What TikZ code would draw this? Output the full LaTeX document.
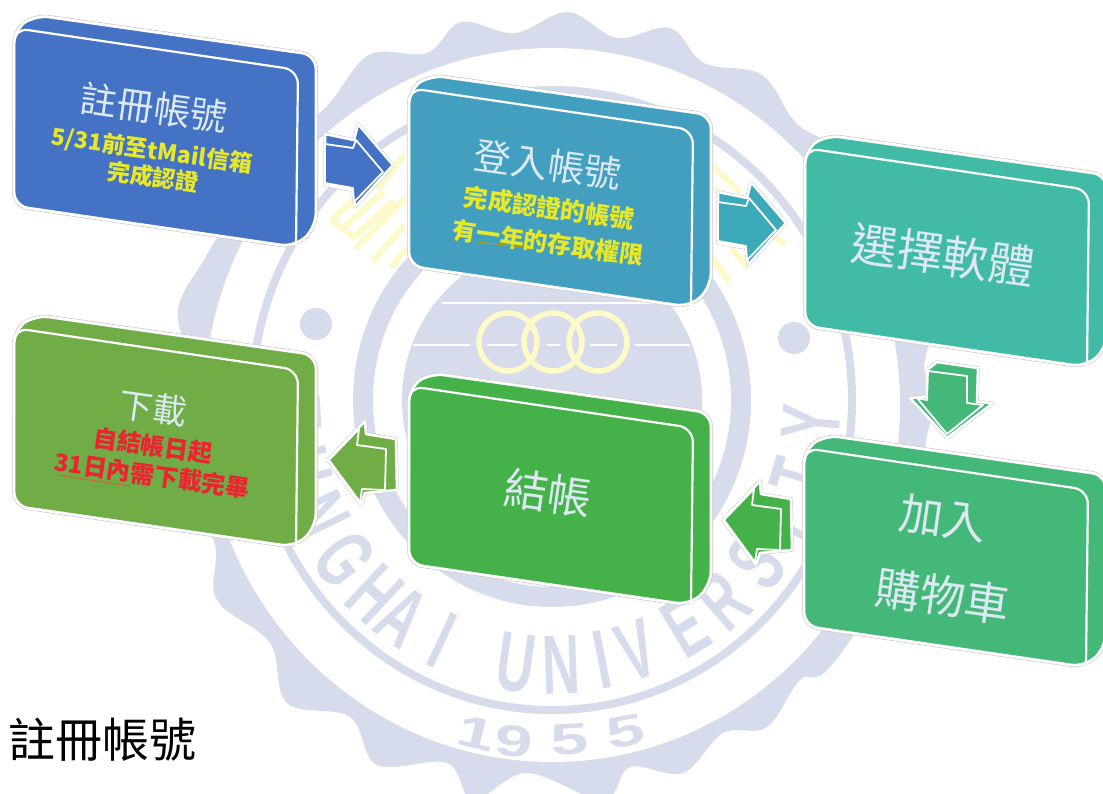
\documentclass[tikz,border=0pt]{standalone}
\usepackage{fontspec}
\setmainfont{Liberation Sans}
\newfontfamily\cjk{Noto Sans CJK TC}
\newfontfamily\seal{Liberation Sans}[BoldFont={Liberation Sans Bold}]
\definecolor{sealc}{HTML}{D6DCEC}
\definecolor{goldc}{HTML}{FDF9C8}
\definecolor{cA}{HTML}{4472C4}
\definecolor{cB}{HTML}{429FBF}
\definecolor{cC}{HTML}{41BBA6}
\definecolor{cD}{HTML}{43B878}
\definecolor{cE}{HTML}{45B149}
\definecolor{cF}{HTML}{70AD47}
\definecolor{aB}{HTML}{3DAABC}
\definecolor{txtc}{HTML}{DCE8F2}
\definecolor{yel}{HTML}{E8E82A}
\definecolor{redc}{HTML}{EA2430}
\newcommand{\fs}[1]{\fontsize{#1}{#1}\selectfont}
\newcommand{\BlockCube}[3]{%
  \begin{scope}[shift={(#1,#2)}]
    \draw[rounded corners=14pt,draw=black!22,line width=4pt]
      (-1,90)--(-1,0)--(20,-15)--(301,25)--(301,197)--(280,217)--(-1,176)--cycle;
    \draw[rounded corners=14pt,draw=white,fill=#3,line width=2.8pt]
      (-1,90)--(-1,0)--(20,-15)--(301,25)--(301,197)--(280,217)--(-1,176)--cycle;
    \draw[rounded corners=14pt,draw=white,line width=2.2pt]
      (-1,90)--(-1,-2)--(283,40)--(281,216);
  \end{scope}}
\newcommand{\RightArrow}[3]{%
  \begin{scope}[shift={(#1,#2)}]
    \draw[draw=black!22,line width=3.5pt,line join=round]
      (0,-9)--(29,-3)--(33,-19)--(68,22)--(30,64)--(28,47)--(0,42)--cycle;
    \draw[draw=white,fill=#3,line width=2.6pt,line join=round]
      (0,-9)--(29,-3)--(33,-19)--(68,22)--(30,64)--(28,47)--(0,42)--cycle;
    \draw[draw=white,fill=#3,line width=1.8pt,line join=round]
      (0,1)--(28,5)--(31,-3)--(58,29)--(29,59)--(28,45)--(0,40)--cycle;
  \end{scope}}
\newcommand{\LeftArrow}[3]{%
  \begin{scope}[shift={(#1,#2)}]
    \draw[draw=black!22,line width=3.5pt,line join=round]
      (0,0)--(37,-39)--(38,-26)--(68,-21)--(69,30)--(37,33)--(33,45)--cycle;
    \draw[draw=white,fill=#3,line width=2.6pt,line join=round]
      (0,0)--(37,-39)--(38,-26)--(68,-21)--(69,30)--(37,33)--(33,45)--cycle;
    \draw[draw=white,fill=#3,line width=1.8pt,line join=round]
      (1,0)--(31,-31)--(29,-15)--(58,-11)--(57,30)--(34,29)--(32,42)--cycle;
  \end{scope}}
\begin{document}
\begin{tikzpicture}[x=1pt,y=-1pt,
  boxtitle/.style={font=\cjk,text=txtc,rotate=-8,inner sep=0pt,align=center},
  yeltext/.style={font=\cjk\bfseries\fs{23},text=yel,rotate=-8,inner sep=0pt},
  redtext/.style={font=\cjk\bfseries\fs{24},text=redc,rotate=-8,inner sep=0pt},
  sealletter/.style={font=\seal\bfseries\fs{84},text=sealc,inner sep=0pt,xscale=.62},
  sealdigit/.style={font=\seal\bfseries\fs{44},text=sealc,inner sep=0pt,xscale=1.55},
  goldstripe/.style={draw=goldc,line width=6pt,line cap=round}]
\useasboundingbox (0,0) rectangle (1103,793);
\fill[white] (0,0) rectangle (1103,793);
% seal
\fill[sealc] plot[smooth cycle,tension=.6] coordinates {
  (568,12)(617,38)(670,28)(704,63)(762,75)(796,123)(838,150)(880,205)(905,240)(918,290)
  (930,330)(924,370)(935,400)(925,450)(930,520)(905,560)(830,667)(800,680)(767,727)(723,733)
  (683,773)(630,767)(603,800)(527,773)(473,800)(447,763)(377,765)(350,717)(287,703)(270,643)
  (217,600)(215,545)(190,490)(178,420)(190,370)(178,310)(205,258)(240,200)(260,160)(325,108)
  (369,55)(427,53)(461,22)(515,33)};
\fill[white] (552,405) ellipse[x radius=348,y radius=357];
\draw[sealc,line width=8pt] (552,400) ellipse[x radius=300,y radius=310];
\draw[sealc,line width=20pt] (552,400) ellipse[x radius=189,y radius=197];
\fill[sealc] (552,400) ellipse[x radius=150,y radius=155];
\fill[sealc] (316,324) circle[radius=16];
\fill[sealc] (794,338) circle[radius=16];
\draw[white,line width=2pt] (442,303)--(660,303)
  (413,345)--(470,345) (487,345)--(517,345) (547,345)--(560,345) (590,345)--(617,345) (635,345)--(690,345);
\foreach \c/\a in {T/183,U/195,N/206,G/217,H/227,A/235,I/245,U/262,N/272,I/281,V/289,E/301,R/311,S/322,I/332,T/343,Y/355}{
  \node[rotate=\a+90,sealletter] at ({552+260*cos(\a)},{400-265*sin(\a)}) {\c};}
\node[rotate=-14,sealdigit] (d1) at (477,733) {1};
\node[rotate=-6,sealdigit] (d2) at (514,741) {9};
\node[rotate=3,sealdigit] (d3) at (570,740) {5};
\node[rotate=10,sealdigit] (d4) at (626,732) {5};
% gold emblem
\draw[goldc,line width=5.5pt] (508,342) circle[radius=29] (553,342) circle[radius=29] (598,342) circle[radius=29];
\draw[goldstripe] (332,220)--(354,237) (332,220)--(372,183) (343,228)--(382,193) (354,237)--(392,203)
  (403,157)--(379,187) (357,247)--(403,200) (374,260)--(403,227) (393,265)--(405,250);
\draw[goldstripe] (714,167)--(738,190) (716,190)--(745,222) (714,260)--(728,280) (733,250)--(747,267) (767,233)--(784,243);
% boxes
\BlockCube{15}{30}{cA}
\BlockCube{410}{90}{cB}
\BlockCube{806}{150}{cC}
\BlockCube{805}{450}{cD}
\BlockCube{410}{388}{cE}
\BlockCube{15}{330}{cF}
% arrows
\RightArrow{325}{143}{cA}
\RightArrow{718}{201}{aB}
\LeftArrow{328}{460}{cF}
\LeftArrow{723}{520}{cE}
\draw[draw=black!22,line width=3.5pt,line join=round]
  (927,370)--(937,362)--(978,368)--(977,402)--(993,403)--(947,438)--(910,398)--(927,397)--cycle;
\draw[draw=white,fill=cD,line width=2.6pt,line join=round]
  (927,370)--(937,362)--(978,368)--(977,402)--(993,403)--(947,438)--(910,398)--(927,397)--cycle;
\draw[draw=white,fill=cD,line width=1.8pt,line join=round]
  (928,371)--(967,376)--(967,403)--(983,405)--(947,434)--(917,398)--(927,400)--cycle;
% texts
\node[boxtitle,font=\cjk\fs{37}] (t1) at (154,108) {註冊帳號};
\node[yeltext] (t1a) at (152,151) {5/31前至tMail信箱};
\node[yeltext] (t1b) at (153,177) {完成認證};
\node[boxtitle,font=\cjk\fs{37}] (t2) at (548,165) {登入帳號};
\node[yeltext,font=\cjk\bfseries\fs{24.5}] (t2a) at (549,208) {完成認證的帳號};
\node[yeltext,font=\cjk\bfseries\fs{24}] (t2b) at (548,243) {有一年的存取權限};
\draw[olive!70!yellow,line width=1pt] (477,242)--(524,247);
\node[boxtitle,font=\cjk\fs{46}] (t3) at (943,255) {選擇軟體};
\node[boxtitle,font=\cjk\fs{44}] (t4a) at (943,518) {加入};
\node[boxtitle,font=\cjk\fs{45}] (t4b) at (943,596) {購物車};
\node[boxtitle,font=\cjk\fs{44}] (t5) at (548,493) {結帳};
\node[boxtitle,font=\cjk\fs{34}] (t6) at (153,408) {下載};
\node[redtext] (t6a) at (153,446) {自結帳日起};
\node[redtext] (t6b) at (152,475) {31日內需下載完畢};
\draw[brown!80!red,line width=1pt] (57,475)--(130,486);
\node[font=\cjk\fs{47},text=black,inner sep=0pt,anchor=west] (cap) at (8,740) {註冊帳號};
\end{tikzpicture}
\end{document}
